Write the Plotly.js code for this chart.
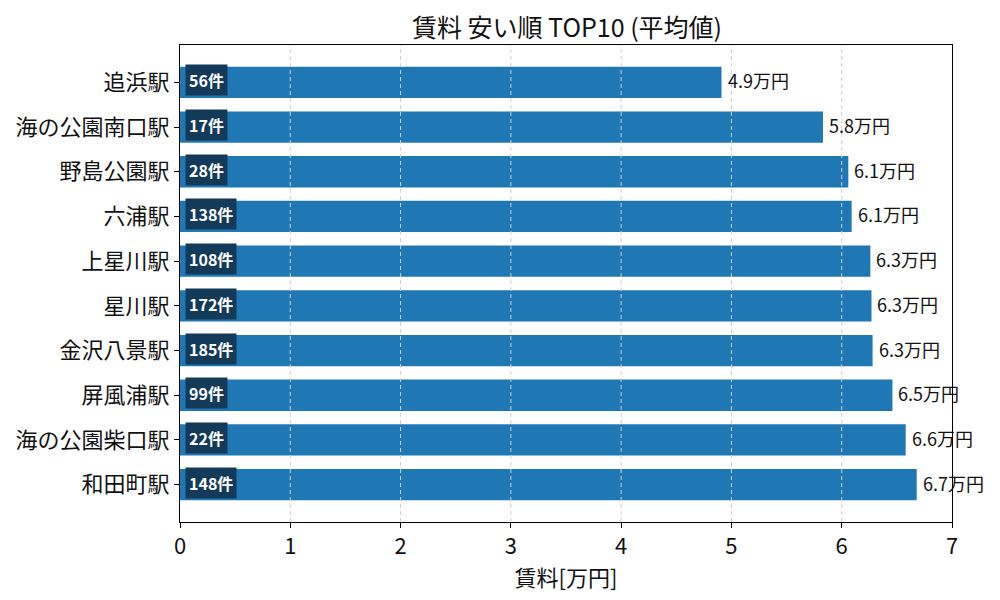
<!DOCTYPE html>
<html>
<head>
<meta charset="utf-8">
<script src="https://cdn.plot.ly/plotly-3.0.1.min.js"></script>
<style>
  body { margin: 0; background: #fff; }
  #chart { width: 1000px; height: 600px; }
</style>
</head>
<body>
<div id="chart"></div>
<script>
// stations, top to bottom
const stations = ['追浜駅', '海の公園南口駅', '野島公園駅', '六浦駅', '上星川駅', '星川駅', '金沢八景駅', '屏風浦駅', '海の公園柴口駅', '和田町駅'];
const rentMan = [4.91, 5.83, 6.06, 6.09, 6.26, 6.27, 6.28, 6.46, 6.58, 6.68];
const counts = [56, 17, 28, 138, 108, 172, 185, 99, 22, 148];
const xTicks = [0, 1, 2, 3, 4, 5, 6, 7];

const FONT = '"Noto Sans CJK JP", "Noto Sans", sans-serif';

const trace = {
  type: 'bar',
  orientation: 'h',
  y: stations,
  x: rentMan,
  width: 0.7,
  marker: { color: '#1f77b4' },
  hoverinfo: 'skip'
};

// value labels just past the bar end
const valueLabels = stations.map((s, i) => ({
  x: rentMan[i], y: s, xref: 'x', yref: 'y',
  xanchor: 'left', xshift: 4, yshift: 2,
  text: rentMan[i].toFixed(1) + '万円',
  showarrow: false,
  font: { size: 18, color: '#111', family: FONT }
}));

// count badges at the left of each bar
const badges = stations.map((s, i) => ({
  x: 0, y: s, xref: 'x', yref: 'y',
  xanchor: 'left', xshift: 5, yshift: 2,
  text: '<b>' + counts[i] + '件</b>',
  showarrow: false,
  font: { size: 16, color: '#fff', family: FONT },
  bgcolor: '#143a5a',
  borderpad: 3
}));

// dashed grid drawn over the bars
const grid = xTicks.slice(1, -1).map(t => ({
  type: 'line', layer: 'above',
  xref: 'x', yref: 'paper', x0: t, x1: t, y0: 0, y1: 1,
  line: { color: '#cfcfcf', width: 1, dash: '4px,3px' }
}));

const layout = {
  width: 1000, height: 600,
  margin: { l: 180, r: 48, t: 45, b: 78 },
  paper_bgcolor: '#fff',
  plot_bgcolor: '#fff',
  font: { family: FONT, color: '#111' },
  title: { text: '賃料 安い順 TOP10 (平均値)', x: 0.567, xanchor: 'center', y: 0.953, yanchor: 'middle', font: { size: 25 } },
  xaxis: {
    range: [0, 7.0], tickvals: xTicks, showgrid: false, zeroline: false,
    ticks: 'outside', ticklen: 5, tickcolor: '#000',
    showline: true, linecolor: '#000', mirror: true,
    tickfont: { size: 22 },
    title: { text: '賃料[万円]', font: { size: 22 }, standoff: 6 }
  },
  yaxis: {
    type: 'category', range: [9.835, -0.835], showgrid: false,
    ticks: 'outside', ticklen: 5, tickcolor: '#000',
    showline: true, linecolor: '#000', mirror: true,
    tickfont: { size: 22 }
  },
  annotations: badges.concat(valueLabels),
  shapes: grid,
  showlegend: false
};

Plotly.newPlot('chart', [trace], layout, { displayModeBar: false, staticPlot: true });
</script>
</body>
</html>
